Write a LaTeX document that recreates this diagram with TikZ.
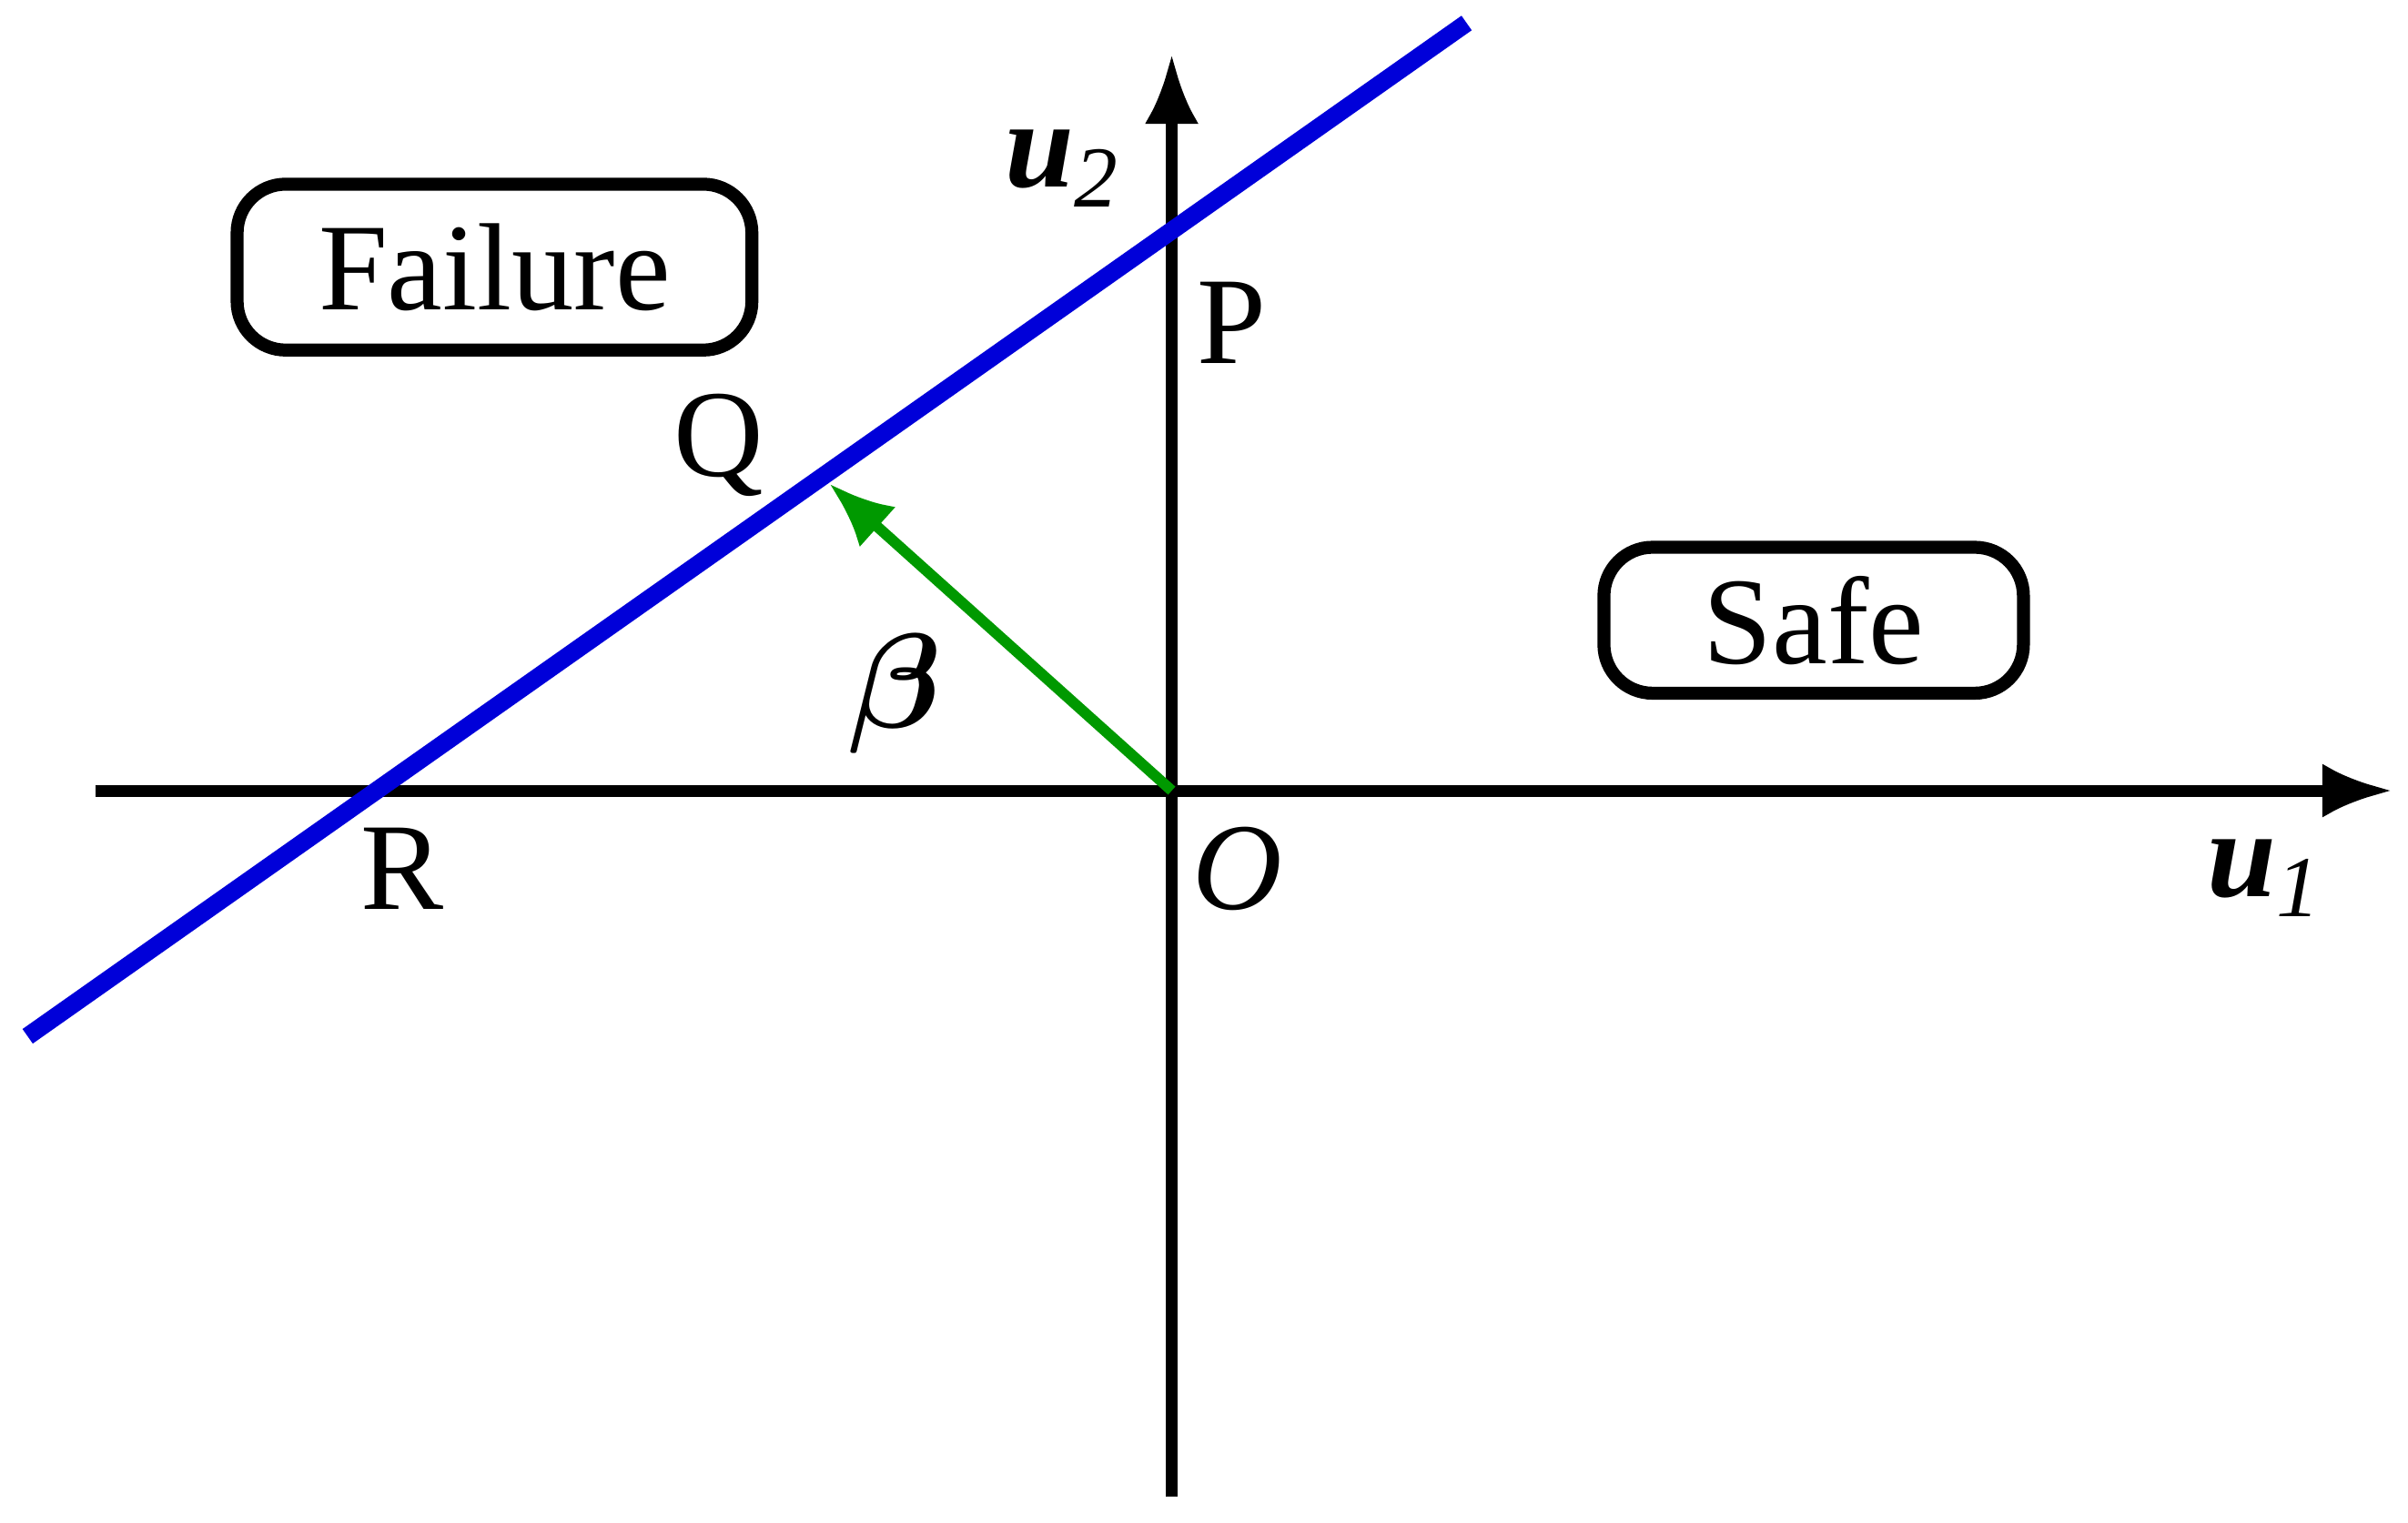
\documentclass[tikz,border=0pt]{standalone}
\usepackage{amsmath,bm}
\usepackage{fontspec}
\setmainfont{Liberation Serif}
\usetikzlibrary{arrows.meta,positioning}
\tikzset{
   axis/.style={line width=2.2pt, -{Latex[length=13pt,width=10pt]}},
   region/.style={draw, line width=2.4pt, rounded corners=9pt, font=\fontsize{23}{26}\selectfont},
   lbl/.style={font=\fontsize{23}{26}\selectfont}
}
\begin{document}
\begin{tikzpicture}[x=0.01cm,y=-0.01cm]
   \useasboundingbox (0,0) rectangle (1568,992);
   % axes
   \coordinate (O) at (763,515);
   \coordinate (xl) at (62,515);
   \coordinate (xr) at (1558,515);
   \coordinate (yb) at (763,975);
   \coordinate (yt) at (763,35);
   \draw[axis] (xl) -- (xr);
   \draw[axis] (yb) -- (yt);

   % limit state line
   \coordinate (gA) at (18,675);
   \coordinate (gB) at (955,15);
   \draw[blue!85!black, line width=3.3pt] (gA) -- (gB);

   % reliability index
   \coordinate (Qf) at (540,315);
   \draw[green!60!black, line width=2pt, -{Latex[length=12pt,width=10pt]}] (O) -- (Qf);

   \node[region, minimum width=3.35cm, minimum height=1.08cm] (fail) at (322,174) {Failure};
   \node[region, minimum width=2.73cm, minimum height=0.95cm] (safe) at (1181,404) {Safe};

   \node[lbl] (u2) at (692,110) {\textbf{\textit{u}}$_{\textit{2}}$};
   \node[lbl] (P) at (802,210) {P};
   \node[lbl] (Q) at (468,290) {Q};
   \node[lbl] (beta) at (583,452) {$\bm{\beta}$};
   \node[lbl] (R) at (262,566) {R};
   \node[lbl] (Olbl) at (806,566) {\textit{O}};
   \node[lbl] (u1) at (1475,572) {\textbf{\textit{u}}$_{\textit{1}}$};
\end{tikzpicture}
\end{document}
